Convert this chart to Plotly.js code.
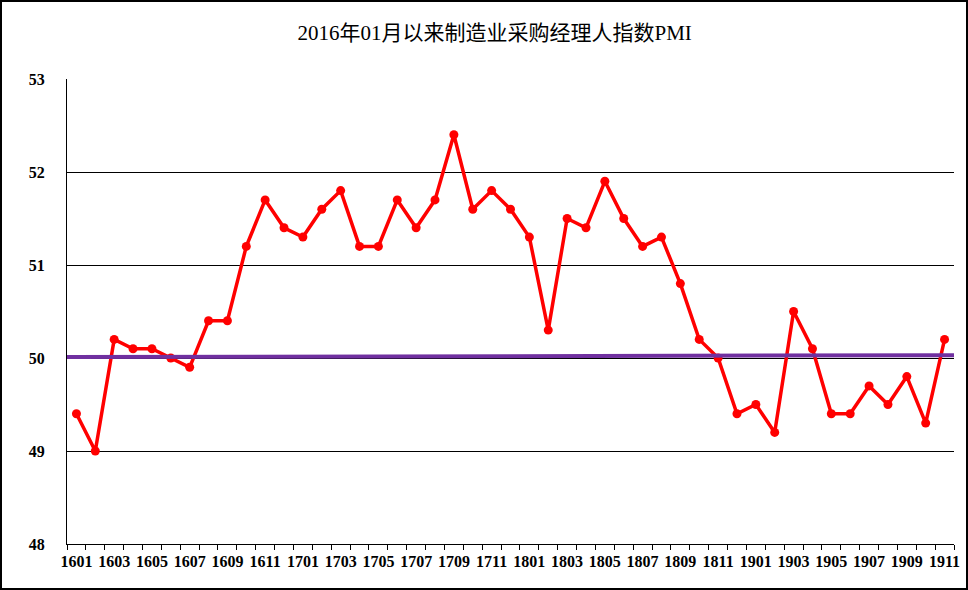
<!DOCTYPE html>
<html>
<head>
<meta charset="utf-8">
<script src="https://cdn.plot.ly/plotly-3.0.1.min.js"></script>
<style>
html,body{margin:0;padding:0;background:#fff;}
#wrap{position:relative;width:968px;height:590px;}
#chart{width:968px;height:590px;}
#frame{position:absolute;left:0;top:0;width:968px;height:590px;box-sizing:border-box;border:2px solid #000;pointer-events:none;}
</style>
</head>
<body>
<div id="wrap"><div id="chart"></div><div id="frame"></div></div>
<script>
const months = ["1601","1602","1603","1604","1605","1606","1607","1608","1609","1610","1611","1612",
"1701","1702","1703","1704","1705","1706","1707","1708","1709","1710","1711","1712",
"1801","1802","1803","1804","1805","1806","1807","1808","1809","1810","1811","1812",
"1901","1902","1903","1904","1905","1906","1907","1908","1909","1910","1911"];
const pmi = [49.4,49.0,50.2,50.1,50.1,50.0,49.9,50.4,50.4,51.2,51.7,51.4,
51.3,51.6,51.8,51.2,51.2,51.7,51.4,51.7,52.4,51.6,51.8,51.6,
51.3,50.3,51.5,51.4,51.9,51.5,51.2,51.3,50.8,50.2,50.0,49.4,
49.5,49.2,50.5,50.1,49.4,49.4,49.7,49.5,49.8,49.3,50.2];
const tickLabels = months.map((m,i)=> i%2===0 ? m : "");
const lineX = [0,1];
const lineY = [50.01,50.03];

const numFont = "Liberation Serif, Noto Sans CJK SC, serif";

const traces = [
  {x: lineX, y: lineY, xaxis:"x2", yaxis:"y", mode:"lines", type:"scatter",
   line:{color:"#7030A0", width:4}, hoverinfo:"skip", showlegend:false},
  {x: months, y: pmi, mode:"lines+markers", type:"scatter",
   line:{color:"#FF0000", width:3.5}, marker:{color:"#FF0000", size:9},
   showlegend:false}
];

const layout = {
  width:968, height:590,
  margin:{l:67, r:14, t:79, b:46},
  paper_bgcolor:"#fff", plot_bgcolor:"#fff",
  title:{text:"2016年01月以来制造业采购经理人指数PMI", x:0.511, xanchor:"center", y:0.945, yanchor:"middle",
    font:{family:numFont, size:21, color:"#000"}},
  xaxis:{type:"category", range:[-0.5, months.length-0.5],
    tickvals: months, ticktext: tickLabels, tickson:"boundaries",
    ticks:"outside", ticklen:5, tickcolor:"#000", tickwidth:1,
    showline:true, linecolor:"#000", linewidth:1, showgrid:false, zeroline:false,
    tickangle:0, ticklabelstandoff:3,
    tickfont:{family:numFont, size:16, color:"#000", weight:"bold"}},
  xaxis2:{overlaying:"x", range:[0,1], visible:false, fixedrange:true},
  yaxis:{range:[48,53], dtick:1, tick0:48, showgrid:true, gridcolor:"#000", gridwidth:1,
    showline:true, linecolor:"#000", linewidth:1, zeroline:false, ticks:"",
    tickfont:{family:numFont, size:16, color:"#000", weight:"bold"}, ticklabelstandoff:18}
};
Plotly.newPlot("chart", traces, layout, {displayModeBar:false, staticPlot:true});
</script>
</body>
</html>
